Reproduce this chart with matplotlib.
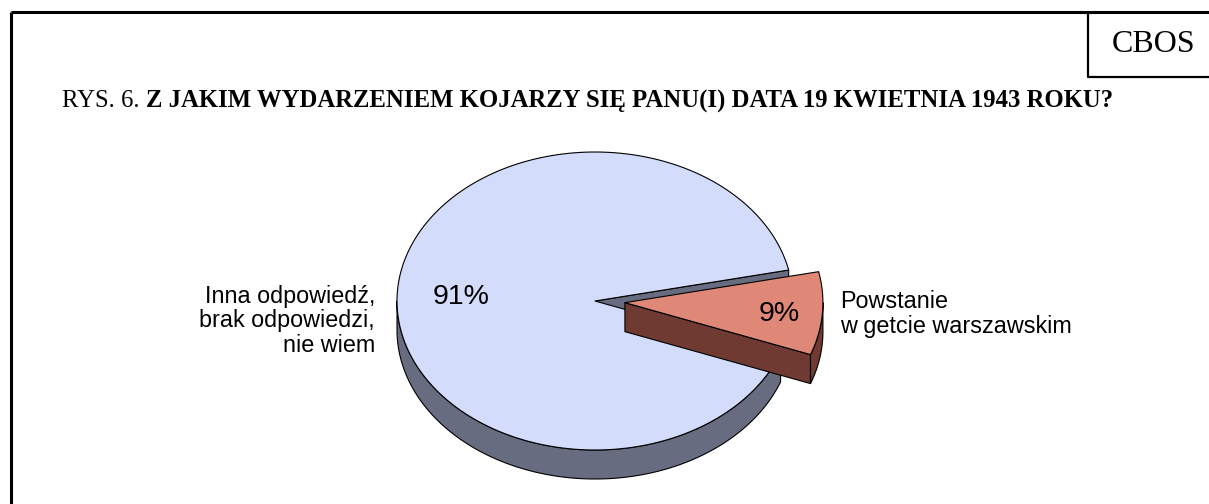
import numpy as np
import matplotlib.pyplot as plt
from matplotlib.patches import Polygon

# data
labels = ["Inna odpowiedź,\nbrak odpowiedzi,\nnie wiem", "Powstanie\nw getcie warszawskim"]
shares = [91, 9]
pct_labels = ["91%", "9%"]
top_colors = ["#d3dcfa", "#e08878"]
side_colors = ["#686c80", "#6e3a32"]
explode = [0, 30]
pct_r = [0.68, 0.78]

title_plain = "RYS. 6. "
title_bold = "Z JAKIM WYDARZENIEM KOJARZY SIĘ PANU(I) DATA 19 KWIETNIA 1943 ROKU?"

W, H = 1209, 504
fig = plt.figure(figsize=(W / 100, H / 100), dpi=100)
ax = fig.add_axes([0, 0, 1, 1])
ax.set_xlim(0, W)
ax.set_ylim(H, 0)
ax.axis("off")

# frame + CBOS box
ax.plot([11, W], [12, 12], color="black", lw=2.2, solid_capstyle="butt")
ax.plot([11, 11], [12, H], color="black", lw=2.2, solid_capstyle="butt")
ax.plot([1088, 1088, W], [12, 77, 77], color="black", lw=1.6)
ax.text(1154, 45, "CBOS", fontsize=23, family="Liberation Serif", ha="center", va="center")

# title in two parts: plain + bold
t1 = ax.text(62, 101, title_plain, fontsize=17.8, family="Liberation Serif", va="center")
fig.canvas.draw()
bb = t1.get_window_extent().transformed(ax.transData.inverted())
ax.text(bb.x1, 101, title_bold, fontsize=17.8, family="Liberation Serif",
        weight="bold", va="center")

# 3D pie geometry (pixels)
cx, cy = 595, 301
rx, ry = 198, 149
depth = 29
start = 12


def pt(t, ox, oy, dz=0.0):
    r = np.radians(t)
    return cx + ox + rx * np.cos(r), cy + oy - ry * np.sin(r) + dz


def arc(t1, t2, ox, oy, dz=0.0, n=200):
    ts = np.linspace(t1, t2, n)
    return [pt(t, ox, oy, dz) for t in ts]


angles = []
a = start
for s in shares:
    span = s / sum(shares) * 360
    angles.append((a, a + span))
    a += span

for i, (a1, a2) in enumerate(angles):
    mid = np.radians((a1 + a2) / 2)
    ox = explode[i] * np.cos(mid)
    oy = -explode[i] * np.sin(mid) * ry / rx
    c = (cx + ox, cy + oy)
    ec = dict(edgecolor="black", linewidth=0.8, joinstyle="round")

    # radial faces
    if np.cos(np.radians(a1)) > 0:
        p = pt(a1, ox, oy)
        ax.add_patch(Polygon([c, p, (p[0], p[1] + depth), (c[0], c[1] + depth)],
                             facecolor=side_colors[i], **ec))
    if np.cos(np.radians(a2)) < 0:
        p = pt(a2, ox, oy)
        ax.add_patch(Polygon([c, p, (p[0], p[1] + depth), (c[0], c[1] + depth)],
                             facecolor=side_colors[i], **ec))

    # outer wall, front half only
    for k in (-1, 0, 1):
        lo = max(a1, 180 + 360 * k)
        hi = min(a2, 360 + 360 * k)
        if hi > lo:
            top = arc(lo, hi, ox, oy)
            bot = arc(hi, lo, ox, oy, depth)
            ax.add_patch(Polygon(top + bot, facecolor=side_colors[i], **ec))

    # top surface
    ax.add_patch(Polygon([c] + arc(a1, a2, ox, oy), facecolor=top_colors[i], **ec))

    # percent label
    px = c[0] + pct_r[i] * rx * np.cos(mid)
    py = c[1] - pct_r[i] * ry * np.sin(mid)
    ax.text(px, py + 3, pct_labels[i], fontsize=20.5, family="Liberation Sans",
            ha="center", va="center")

ax.text(375, 321, labels[0], fontsize=16.8, family="Liberation Sans",
        ha="right", va="center", linespacing=1.1)
ax.text(840, 314, labels[1], fontsize=16.8, family="Liberation Sans",
        ha="left", va="center", linespacing=1.1)

fig.savefig("out.png", dpi=100)
